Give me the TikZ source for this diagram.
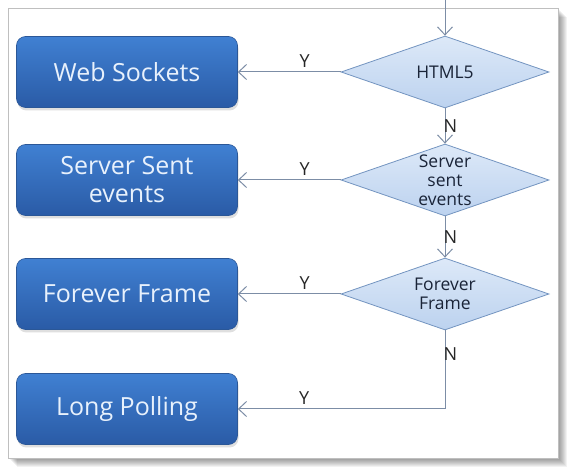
\documentclass[tikz,border=0pt]{standalone}
\usepackage{fontspec}
\setmainfont{Open Sans}
\usetikzlibrary{shapes.geometric,arrows.meta,shadows}

\definecolor{boxtop}{HTML}{4080D2}
\definecolor{boxbot}{HTML}{2A5BA6}
\definecolor{boxline}{HTML}{2B5797}
\definecolor{boxtext}{HTML}{E8F1FC}
\definecolor{ditop}{HTML}{DDE9F8}
\definecolor{dibot}{HTML}{BCD2EF}
\definecolor{diline}{HTML}{7394C0}
\definecolor{ditext}{HTML}{1A2438}
\definecolor{wire}{HTML}{7C8DA6}

\tikzset{
  choice/.style={rectangle, rounded corners=9pt, minimum width=221pt, minimum height=71pt,
    top color=boxtop, bottom color=boxbot, draw=boxline, line width=.6pt, text=boxtext,
    align=center, font=\fontsize{25}{28}\selectfont,
    drop shadow={shadow xshift=1pt, shadow yshift=-3pt, opacity=.25}},
  decision/.style={diamond, minimum width=208pt, minimum height=72pt, inner sep=0pt,
    top color=ditop, bottom color=dibot, draw=diline, line width=.8pt},
  dtext/.style={text=ditext, align=center, font=\fontsize{17.5}{19}\selectfont},
  flow/.style={draw=wire, line width=1pt, -{Straight Barb[length=8pt,width=15pt]}},
  lbl/.style={text=black!85, font=\fontsize{18}{20}\selectfont, inner sep=1pt},
}

\begin{document}
\begin{tikzpicture}[x=1pt,y=-1pt,node distance=108pt]
      \useasboundingbox (0,0) rectangle (574,473);
      %% Panel
      \fill[white] (0,0) rectangle (574,473);
      \foreach \s in {1,...,9}
        \fill[black,opacity=.05] (8+\s,8+\s) rectangle (558+\s,458+\s);
      \filldraw[fill=white,draw=black!25,line width=.6pt] (8,8) rectangle (558,458);
      %% Decisions
      \node[decision,label={[dtext]center:HTML5}] (d1) at (445,72) {};
      \node[decision,below of=d1,label={[dtext]center:Server\\sent\\events}] (d2) {};
      \node[decision,below of=d2,node distance=114pt,label={[dtext]center:Forever\\Frame}] (d3) {};
      %% Transports
      \node[choice,left of=d1,node distance=318pt] (b1) {Web Sockets};
      \node[choice,left of=d2,node distance=318pt] (b2) {Server Sent\\events};
      \node[choice,left of=d3,node distance=318pt] (b3) {Forever Frame};
      \node[choice,below of=b3,node distance=115pt] (b4) {Long Polling};
      \coordinate (in) at (445,0);
      \coordinate (c4) at (d3 |- b4);
      %% Vertical arrows
      \draw[flow] (in) -- (d1);
      \draw[flow] (d1) -- node[lbl,anchor=west,xshift=-3pt]{N} (d2);
      \draw[flow] (d2) -- node[lbl,anchor=west,xshift=-3pt]{N} (d3);
      %% Horizontal arrows
      \draw[flow] (d1) -- node[lbl,above,pos=.35,yshift=3pt]{Y} (b1);
      \draw[flow] (d2) -- node[lbl,above,pos=.35,yshift=3pt]{Y} (b2);
      \draw[flow] (d3) -- node[lbl,above,pos=.35,yshift=3pt]{Y} (b3);
      \draw[flow] (d3) -- node[lbl,anchor=west,xshift=-3pt,pos=.3]{N} (c4)
        -- node[lbl,above,pos=.68,yshift=3pt]{Y} (b4);
    \end{tikzpicture}
\end{document}
